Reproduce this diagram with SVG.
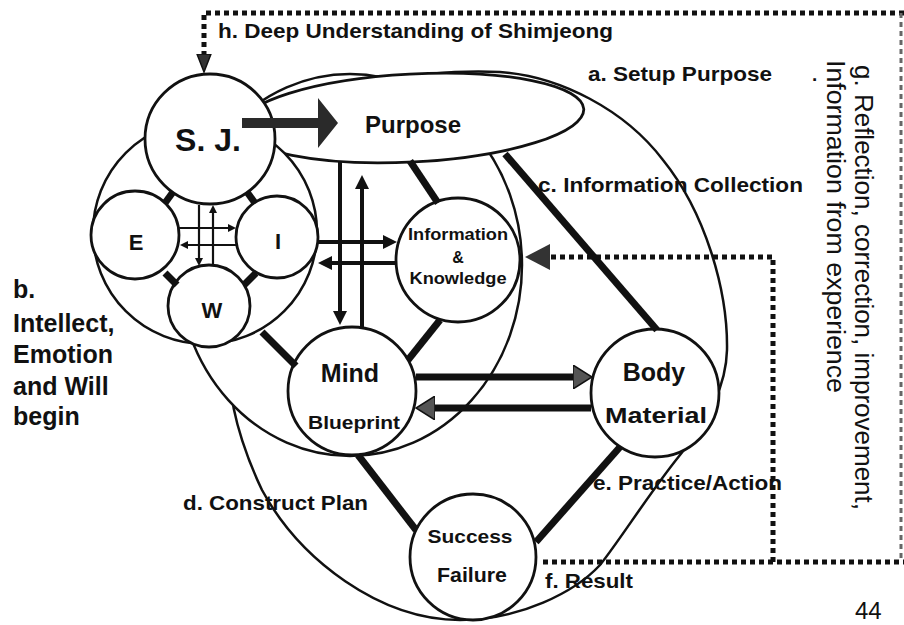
<svg xmlns="http://www.w3.org/2000/svg" width="904" height="625" viewBox="0 0 904 625">
<defs>
<style>
.reg{fill:none;stroke:#111;stroke-width:2.5}
.regw{fill:#fff;stroke:#111;stroke-width:2.5}
.node{fill:#fff;stroke:#111;stroke-width:2.8}
.thick{stroke:#111;stroke-width:7;fill:none}
.arr{stroke:#111;stroke-width:4;fill:none}
.arrg{stroke:#111;stroke-width:7;fill:none}
.thin{stroke:#111;stroke-width:2.2;fill:none}
.dot{stroke:#111;stroke-width:5;stroke-dasharray:5 4;fill:none}
.dotf{stroke:#666;stroke-width:3;stroke-dasharray:5 4;fill:none}
text{font-family:"Liberation Sans",Arial,Helvetica,sans-serif;fill:#111}
.b{font-weight:bold}
.c{text-anchor:middle}
</style>
<marker id="mA" viewBox="0 -7 14 14" refX="0" refY="0" markerWidth="14" markerHeight="14" markerUnits="userSpaceOnUse" orient="auto"><path d="M0,-7 L14,0 L0,7 z" fill="#111"/></marker>
<marker id="mS" viewBox="0 -4 8 8" refX="0" refY="0" markerWidth="8" markerHeight="8" markerUnits="userSpaceOnUse" orient="auto"><path d="M0,-4 L8,0 L0,4 z" fill="#111"/></marker>
<marker id="mG" viewBox="0 -12 20 24" refX="0" refY="0" markerWidth="20" markerHeight="24" markerUnits="userSpaceOnUse" orient="auto"><path d="M0,-12 L19,0 L0,12 z" fill="#555" stroke="#111" stroke-width="1.5"/></marker>
<marker id="mD" viewBox="0 -14 26 28" refX="0" refY="0" markerWidth="26" markerHeight="28" markerUnits="userSpaceOnUse" orient="auto"><path d="M0,-13 L25,0 L0,13 z" fill="#333"/></marker>
<marker id="mT" viewBox="0 -8 19 16" refX="0" refY="0" markerWidth="19" markerHeight="16" markerUnits="userSpaceOnUse" orient="auto"><path d="M0,-7 L18,0 L0,7 z" fill="#333" stroke="#111" stroke-width="1.5"/></marker>
</defs>
<rect width="904" height="625" fill="#fff"/>

<g id="region-a"><path class="reg" d="M360,86 C400,74 460,70 500,72 C560,76 625,110 663,160 C705,212 728,290 727,350 C726,390 705,425 680,455 C650,492 620,540 600,565 C575,592 520,620 460,620 C380,620 300,560 262,490 C250,465 232,420 230,380"/></g>
<g id="region-c"><ellipse class="regw" cx="350" cy="265" rx="172" ry="191"/></g>
<g id="purpose"><ellipse class="node" cx="412" cy="118" rx="172" ry="44" transform="rotate(-3 412 118)"/><text class="b c" x="413" y="133" font-size="24">Purpose</text></g>
<g id="region-b"><circle class="regw" cx="205" cy="232" r="112"/></g>
<g id="sj"><circle class="node" cx="210" cy="139" r="65"/><text class="b c" x="208" y="151" font-size="32">S. J.</text></g>
<g id="e"><circle class="node" cx="135" cy="235" r="44"/><text class="b c" x="136" y="250" font-size="22">E</text></g>
<g id="i"><circle class="node" cx="277" cy="237" r="41"/><text class="b c" x="278" y="249" font-size="22">I</text></g>
<g id="w"><circle class="node" cx="209" cy="306" r="41"/><text class="b c" x="212" y="318" font-size="22">W</text></g>
<g id="info"><circle class="node" cx="458" cy="260" r="62"/>
<text class="b c" x="458" y="240" font-size="16" textLength="100" lengthAdjust="spacingAndGlyphs">Information</text>
<text class="b c" x="458" y="263" font-size="16">&amp;</text>
<text class="b c" x="458" y="284" font-size="16" textLength="97" lengthAdjust="spacingAndGlyphs">Knowledge</text></g>
<g id="mind"><circle class="node" cx="352" cy="391" r="64"/>
<text class="b c" x="350" y="382" font-size="25">Mind</text>
<text class="b c" x="354" y="429" font-size="19" textLength="92" lengthAdjust="spacingAndGlyphs">Blueprint</text></g>
<g id="body"><circle class="node" cx="655" cy="393" r="64"/>
<text class="b c" x="654" y="381" font-size="25">Body</text>
<text class="b c" x="656" y="423" font-size="22" textLength="102" lengthAdjust="spacingAndGlyphs">Material</text></g>
<g id="result"><circle class="node" cx="473" cy="557" r="63"/>
<text class="b c" x="470" y="543" font-size="19" textLength="85" lengthAdjust="spacingAndGlyphs">Success</text>
<text class="b c" x="472" y="582" font-size="20" textLength="70" lengthAdjust="spacingAndGlyphs">Failure</text></g>

<g id="connectors">
<polygon points="242,118 318,118 318,98 338,123 318,148 318,128 242,128" fill="#2a2a2a"/>
<line class="thick" x1="410" y1="161" x2="438" y2="203"/>
<line class="thick" x1="505" y1="154" x2="657" y2="330"/>
<line class="thick" x1="440" y1="320" x2="408" y2="360"/>
<line class="thick" x1="358" y1="455" x2="416" y2="530"/>
<line class="thick" x1="620" y1="447" x2="536" y2="542"/>
<line class="thick" x1="262" y1="332" x2="296" y2="366"/>
<line class="thick" x1="173" y1="192" x2="165" y2="203"/>
<line class="thick" x1="247" y1="192" x2="255" y2="203"/>
<line class="thick" x1="165" y1="273" x2="177" y2="285"/>
<line class="thick" x1="256" y1="273" x2="244" y2="285"/>
<line class="thin" x1="178" y1="228" x2="228" y2="228" marker-end="url(#mS)"/>
<line class="thin" x1="236" y1="245" x2="188" y2="245" marker-end="url(#mS)"/>
<line class="thin" x1="199" y1="205" x2="199" y2="258" marker-end="url(#mS)"/>
<line class="thin" x1="213" y1="266" x2="213" y2="213" marker-end="url(#mS)"/>
<line class="arr" x1="318" y1="242" x2="383" y2="242" marker-end="url(#mA)"/>
<line class="arr" x1="397" y1="263" x2="332" y2="263" marker-end="url(#mA)"/>
<line class="arr" x1="340" y1="162" x2="340" y2="311" marker-end="url(#mA)"/>
<line class="arr" x1="362" y1="327" x2="362" y2="189" marker-end="url(#mA)"/>
<line class="arrg" x1="416" y1="377" x2="573" y2="377" marker-end="url(#mG)"/>
<line class="arrg" x1="591" y1="408" x2="435" y2="408" marker-end="url(#mG)"/>
<polyline class="dot" points="904,13 204,13 204,54" marker-end="url(#mT)"/>
<line class="dotf" x1="901" y1="13" x2="901" y2="562"/>
<line class="dot" x1="543" y1="562" x2="904" y2="562"/>
<polyline class="dot" points="773,562 773,257 550,257" marker-end="url(#mD)"/>
</g>

<g id="labels">
<text class="b" x="218" y="38" font-size="21" textLength="395" lengthAdjust="spacingAndGlyphs">h. Deep Understanding of Shimjeong</text>
<text class="b" x="588" y="81" font-size="21" textLength="184" lengthAdjust="spacingAndGlyphs">a. Setup Purpose</text>
<text class="b" x="812" y="81" font-size="19">.</text>
<text class="b" x="538" y="192" font-size="21" textLength="265" lengthAdjust="spacingAndGlyphs">c. Information Collection</text>
<text class="b" font-size="25"><tspan x="13" y="298">b.</tspan><tspan x="13" y="332">Intellect,</tspan><tspan x="13" y="363">Emotion</tspan><tspan x="13" y="395">and Will</tspan><tspan x="13" y="425">begin</tspan></text>
<text class="b" x="183" y="510" font-size="21" textLength="185" lengthAdjust="spacingAndGlyphs">d. Construct Plan</text>
<text class="b" x="593" y="490" font-size="21" textLength="189" lengthAdjust="spacingAndGlyphs">e. Practice/Action</text>
<text class="b" x="545" y="588" font-size="21" textLength="88" lengthAdjust="spacingAndGlyphs">f. Result</text>
<text x="855" y="619" font-size="24">44</text>
<text transform="translate(855,65) rotate(90)" font-size="26" textLength="445" lengthAdjust="spacingAndGlyphs">g. Reflection, correction, improvement,</text>
<text transform="translate(827,60) rotate(90)" font-size="26" textLength="333" lengthAdjust="spacingAndGlyphs">Information from experience</text>
</g>
</svg>
